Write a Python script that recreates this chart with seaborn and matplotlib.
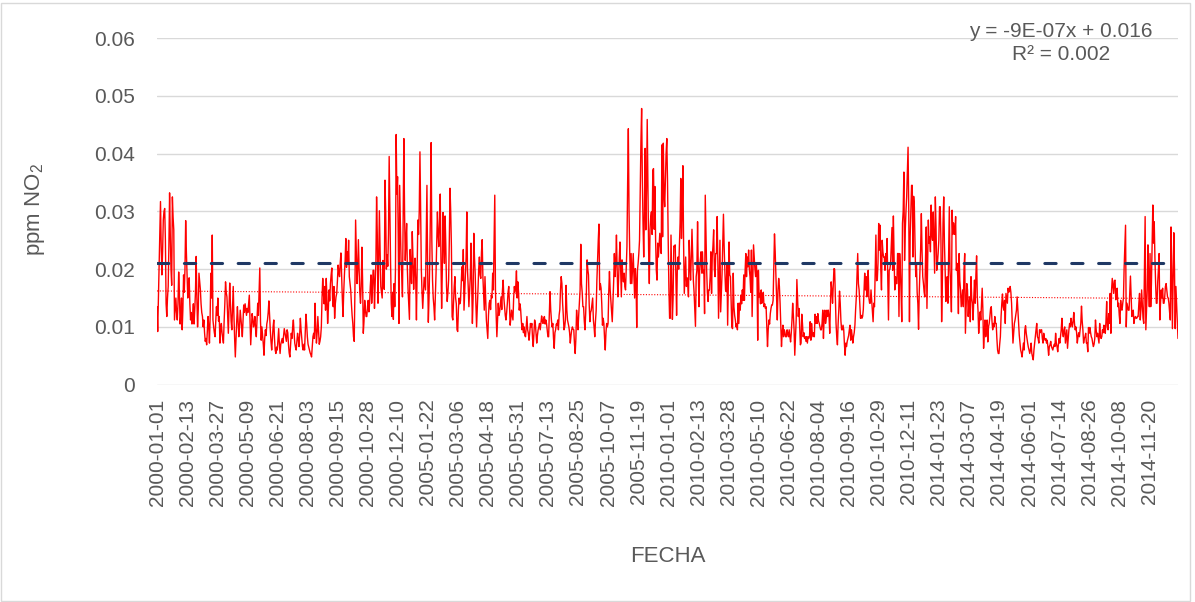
import numpy as np
import pandas as pd
import matplotlib
matplotlib.use("Agg")
import matplotlib.pyplot as plt
import seaborn as sns
from matplotlib.patches import Rectangle

# Daily NO2 values, in units of 1e-4 ppm
no2_2000 = [
    135, 92, 150, 210, 260, 317, 240, 190, 230, 285,
    300, 305, 250, 140, 118, 150, 170, 240, 332, 260,
    200, 172, 325, 290, 268, 112, 130, 150, 125, 112,
    140, 195, 160, 105, 120, 150, 95, 130, 190, 160,
    200, 284, 230, 187, 150, 170, 185, 140, 112, 125,
    105, 120, 140, 105, 130, 160, 222, 150, 100, 130,
    193, 180, 165, 140, 125, 118, 100, 112, 90, 75,
    80, 69, 95, 118, 100, 72, 118, 193, 150, 259,
    112, 100, 90, 83, 110, 135, 120, 150, 110, 118,
    72, 95, 106, 90, 80, 72, 110, 140, 178, 160,
    152, 120, 89, 130, 176, 140, 110, 95, 130, 170,
    120, 80, 48, 80, 110, 135, 110, 83, 100, 129,
    115, 100, 83, 110, 138, 125, 140, 130, 120, 132,
    125, 140, 155, 110, 69, 95, 123, 115, 100, 106,
    118, 95, 83, 110, 141, 120, 160, 202, 110, 77,
    100, 85, 70, 51, 80, 95, 85, 105, 112, 125,
    145, 120, 95, 75, 60, 80, 100, 112, 80, 60,
    54, 65, 60, 80, 97, 70, 54, 70, 75, 80,
    72, 85, 97, 90, 83, 75, 95, 90, 70, 55,
    48, 70, 89, 80, 100, 112, 90, 72, 65, 60,
    75, 89, 80, 66, 85, 115, 95, 80, 66, 60,
    70, 60, 90, 122, 105, 83, 70, 65, 60, 55,
    52, 48, 65, 83, 89, 80, 141, 100, 72, 90,
    118, 95, 70, 75, 83, 100, 150, 184, 158, 140,
    170, 129, 184, 150, 106, 130, 164, 145, 175, 190,
    202, 150, 135, 170, 115, 140, 152, 158, 180, 207,
    195, 187, 210, 228, 187, 150, 118, 160, 190, 215,
    253, 203, 230, 210, 250, 187, 175, 164, 140, 120,
    106, 83, 75, 160, 285, 230, 175, 200, 251, 200,
    160, 141, 170, 238, 180, 89, 110, 146, 130, 118,
    118, 135, 146, 126, 140, 170, 190, 141, 165, 198,
    198, 132, 175, 210, 325, 260, 141, 210, 301, 240,
    170, 160, 150, 215, 180, 165, 354, 300, 200, 225,
    205, 260, 395, 300, 210, 140, 118, 160, 113, 175,
    135, 200, 433, 330, 360, 250, 106, 345, 280, 215,
    190, 152, 300, 426, 300, 215, 250, 279, 200, 165,
    140, 113, 234, 200, 175, 265,
]

no2_2005 = [
    220, 165, 200, 219,
    180, 112, 200, 285, 260, 300, 403, 300, 198, 160,
    132, 160, 186, 175, 164, 260, 345, 200, 108, 150,
    210, 300, 419, 250, 181, 150, 135, 112, 150, 192,
    250, 299, 260, 239, 280, 330, 220, 132, 200, 298,
    250, 210, 292, 240, 170, 144, 160, 181, 250, 340,
    300, 239, 118, 112, 140, 170, 187, 150, 140, 95,
    92, 130, 150, 140, 145, 175, 204, 180, 234, 129,
    160, 187, 220, 299, 198, 170, 135, 160, 187, 245,
    180, 106, 150, 262, 220, 192, 140, 100, 130, 164,
    200, 221, 190, 184, 230, 251, 187, 160, 129, 187,
    150, 112, 95, 80, 120, 141, 146, 130, 155, 150,
    193, 164, 240, 328, 164, 120, 83, 110, 141, 120,
    126, 140, 152, 130, 164, 181, 150, 135, 120, 112,
    125, 141, 160, 170, 140, 103, 115, 129, 120, 112,
    150, 170, 160, 170, 197, 150, 178, 160, 129, 140,
    130, 110, 95, 106, 90, 100, 85, 83, 100, 118,
    95, 89, 77, 90, 106, 100, 106, 80, 66, 89,
    112, 106, 90, 72, 85, 95, 100, 106, 95, 106,
    119, 110, 106, 115, 118, 105, 112, 106, 95, 83,
    83, 120, 161, 130, 112, 100, 106, 80, 63, 90,
    95, 105, 103, 112, 95, 120, 130, 164, 187, 175,
    141, 120, 95, 100, 112, 172, 130, 112, 106, 100,
    90, 72, 85, 95, 100, 96, 95, 70, 54, 80,
    129, 110, 95, 120, 141, 164, 243, 175, 160, 135,
    135, 110, 95, 123, 160, 216, 200, 190, 140, 109,
    125, 129, 140, 150, 112, 100, 83, 110, 129, 180,
    216, 250, 278, 164, 175, 167, 140, 103, 115, 106,
    80, 60, 90, 106, 100, 106, 160, 196, 164, 146,
    130, 109, 141, 178, 227, 187, 210, 259, 200, 152,
    180, 218, 247, 200, 152, 216, 190, 178, 193, 170,
    164, 200, 239, 350, 443, 300, 227, 175, 227, 175,
    200, 227, 190, 150, 201, 180, 99, 198, 210, 227,
    250, 337, 420, 478, 360, 279, 221, 300, 409, 268,
    340, 459, 350, 233, 175, 268, 290, 299, 260, 371,
    374, 269, 343, 250, 198, 181, 245, 221, 240, 262,
    240, 227, 415, 256, 418, 330, 308, 357, 400, 426,
    354,
]

no2_2010 = [
    250, 167, 115, 115, 259, 187, 113, 150, 240,
    239, 242, 187, 120, 198, 221, 200, 240, 280, 357,
    253, 300, 379, 245, 158, 190, 221, 170, 185, 175,
    152, 250, 210, 181, 220, 269, 221, 180, 160, 130,
    101, 187, 198, 282, 200, 135, 198, 216, 230, 193,
    230, 193, 198, 123, 328, 260, 198, 160, 144, 164,
    164, 187, 230, 158, 221, 240, 268, 200, 187, 227,
    227, 291, 213, 115, 180, 250, 126, 160, 192, 240,
    295, 240, 198, 164, 161, 210, 103, 180, 247, 190,
    187, 140, 100, 97, 193, 135, 120, 112, 100, 105,
    95, 141, 106, 141, 129, 155, 140, 164, 146, 190,
    146, 198, 227, 187, 221, 204, 233, 200, 187, 160,
    233, 118, 180, 242, 221, 200, 187, 210, 187, 77,
    198, 152, 158, 140, 164, 141, 152, 160, 135, 140,
    132, 135, 100, 66, 95, 112, 105, 123, 132, 138,
    138, 146, 204, 261, 230, 187, 150, 112, 164, 184,
    170, 141, 106, 66, 90, 103, 83, 95, 90, 83,
    83, 95, 88, 83, 95, 83, 74, 90, 112, 141,
    120, 95, 51, 80, 112, 182, 150, 118, 132, 100,
    69, 72, 122, 106, 83, 90, 80, 83, 75, 83,
    72, 83, 80, 83, 109, 77, 106, 90, 83, 90,
    83, 122, 106, 118, 106, 123, 110, 106, 100, 95,
    95, 106, 129, 80, 118, 129, 106, 115, 129, 118,
    129, 118, 89, 140, 178, 164, 141, 170, 201, 200,
    152, 106, 83, 69, 106, 130, 162, 141, 110, 95,
    95, 103, 95, 70, 51, 72, 66, 75, 80, 85,
    95, 103, 77, 95, 85, 72, 83, 90, 103, 130,
    152, 190, 227, 175, 164, 140, 115, 120, 115, 118,
    130, 164, 193, 164, 187, 152, 170, 198, 150, 141,
    141, 164, 146, 130, 109, 141, 135, 200, 259, 180,
    181, 210, 279, 233, 276, 200, 164, 250, 230, 221,
    221, 198, 227, 210, 253, 180, 112, 198, 200, 210,
    240, 272, 198, 292, 220, 164, 187, 175, 175, 227,
    227, 118, 227, 198, 160, 109, 279, 300, 368, 215,
    268, 300, 325, 366, 411, 300, 109, 256, 300, 345,
    345, 221, 326, 308, 239, 187, 210, 160, 140, 96,
    160, 198, 236, 296, 230, 187,
]

no2_2014 = [
    175, 160, 152, 220,
    273, 132, 210, 285, 245, 256, 230, 311, 260, 250,
    299, 245, 193, 325, 273, 198, 210, 227, 250, 308,
    308, 250, 109, 175, 280, 325, 245, 200, 144, 180,
    187, 141, 220, 308, 198, 170, 126, 302, 260, 280,
    268, 260, 291, 198, 210, 187, 123, 227, 180, 164,
    135, 150, 164, 135, 200, 227, 89, 130, 175, 164,
    118, 140, 152, 109, 187, 150, 141, 112, 150, 181,
    141, 190, 223, 152, 129, 89, 110, 126, 112, 140,
    167, 129, 63, 90, 112, 83, 100, 112, 74, 100,
    106, 118, 132, 135, 110, 95, 106, 100, 118, 106,
    106, 80, 60, 54, 54, 70, 83, 118, 140, 157,
    135, 129, 146, 106, 158, 150, 141, 167, 160, 164,
    170, 160, 141, 106, 72, 90, 106, 112, 120, 129,
    152, 130, 106, 86, 72, 60, 55, 48, 60, 72,
    60, 95, 102, 89, 80, 72, 65, 60, 54, 60,
    72, 54, 48, 43, 60, 72, 83, 95, 106, 83,
    80, 72, 95, 90, 95, 95, 80, 72, 89, 80,
    77, 80, 72, 77, 65, 51, 66, 69, 75, 66,
    63, 60, 66, 70, 66, 89, 72, 66, 57, 70,
    80, 72, 83, 95, 115, 90, 83, 95, 100, 72,
    83, 95, 63, 80, 95, 106, 100, 115, 106, 100,
    110, 125, 106, 95, 100, 90, 72, 83, 90, 83,
    95, 106, 136, 110, 95, 72, 80, 83, 89, 72,
    72, 57, 99, 89, 99, 90, 83, 80, 72, 66,
    70, 80, 112, 95, 83, 89, 80, 72, 106, 85,
    80, 83, 95, 90, 103, 95, 89, 110, 144, 100,
    95, 123, 106, 158, 89, 164, 184, 170, 158, 180,
    181, 147, 160, 167, 135, 141, 120, 106, 146, 130,
    129, 141, 150, 204, 240, 276, 100, 141, 135, 129,
    129, 160, 188, 152, 118, 125, 129, 106, 115, 118,
    115, 115, 118, 118, 140, 158, 112, 130, 164, 141,
    115, 106, 200, 291, 95, 130, 164, 242, 180, 135,
    227, 135, 175, 240, 311, 245, 282, 220, 175, 141,
    141, 178, 200, 227, 112, 141, 164, 150, 167, 141,
    141, 152, 170, 175, 164, 152, 150, 141, 125, 112,
    273, 200, 97, 187, 263, 200, 97, 170, 140, 106, 80,
]

years = [2000, 2005, 2010, 2014]
limite_ppm = 0.021
y_ticks = [0, 0.01, 0.02, 0.03, 0.04, 0.05, 0.06]
y_tick_labels = ["0", "0.01", "0.02", "0.03", "0.04", "0.05", "0.06"]
tick_step = 43
ecuacion = "y = -9E-07x + 0.016\nR\u00b2 = 0.002"

series = [no2_2000, no2_2005, no2_2010, no2_2014]
assert [len(s) for s in series] == [366, 365, 365, 365]

fechas, valores = [], []
for yr, s in zip(years, series):
    fechas += list(pd.date_range(f"{yr}-01-01", periods=len(s), freq="D").strftime("%Y-%m-%d"))
    valores += s
df = pd.DataFrame({"FECHA": fechas, "NO2": np.array(valores, dtype=float) / 10000.0})
df["idx"] = np.arange(len(df))

sns.set_theme(style="white")
plt.rcParams["font.family"] = ["Liberation Sans Narrow", "Liberation Sans", "DejaVu Sans"]
plt.rcParams["mathtext.default"] = "regular"

W, H = 1195, 602
fig = plt.figure(figsize=(W / 100, H / 100), dpi=100)
fig.patch.set_facecolor("white")
x0, x1, ytop, ybot = 157, 1178, 38, 384.7
ax = fig.add_axes([x0 / W, 1 - ybot / H, (x1 - x0) / W, (ybot - ytop) / H])

gray = "#595959"
sns.lineplot(data=df, x="idx", y="NO2", ax=ax, color="#FF0000", linewidth=1.0,
             estimator=None, sort=False, zorder=3)

# linear trend (dotted)
xx = df["idx"].to_numpy() + 1
coef = np.polyfit(xx, df["NO2"].to_numpy(), 1)
ax.plot(df["idx"], np.polyval(coef, xx), color="#FF0000", linewidth=0.8,
        linestyle=(0, (1, 1.5)), zorder=4)

# reference limit
ax.axhline(limite_ppm, color="#1F3864", linewidth=2.2, linestyle=(0, (3.7, 5.1)),
           dash_capstyle="round", zorder=5)

ax.set_xlim(0, len(df) - 1)
ax.set_ylim(0, 0.06)
ax.set_yticks(y_ticks)
ax.set_yticklabels(y_tick_labels)
tick_pos = df["idx"].to_numpy()[::tick_step]
ax.set_xticks(tick_pos)
ax.set_xticklabels(df["FECHA"].to_numpy()[::tick_step], rotation=90)
ax.tick_params(axis="y", length=0, pad=16, labelsize=15, labelcolor=gray)
ax.tick_params(axis="x", length=0, pad=10, labelsize=15, labelcolor=gray)
ax.yaxis.grid(True, color="#D9D9D9", linewidth=1.0)
ax.xaxis.grid(False)
ax.set_axisbelow(True)
for sp in ax.spines.values():
    sp.set_visible(False)
ax.set_xlabel("")
ax.set_ylabel("")

fig.text(35 / W, 1 - 210 / H, "ppm NO$_2$", rotation=90, ha="center", va="center",
         fontsize=16, color=gray)
fig.text(668 / W, 1 - 557 / H, "FECHA", ha="center", va="center", fontsize=16, color=gray)
fig.text(1061 / W, 1 - 43 / H, ecuacion, ha="center", va="center", multialignment="center",
         fontsize=15, color=gray, linespacing=1.3)

fig.add_artist(Rectangle((1 / W, 1 / H), (W - 6) / W, (H - 4) / H, transform=fig.transFigure,
                         fill=False, edgecolor="#D9D9D9", linewidth=1.0))

fig.savefig("out.png", dpi=100, facecolor="white")
